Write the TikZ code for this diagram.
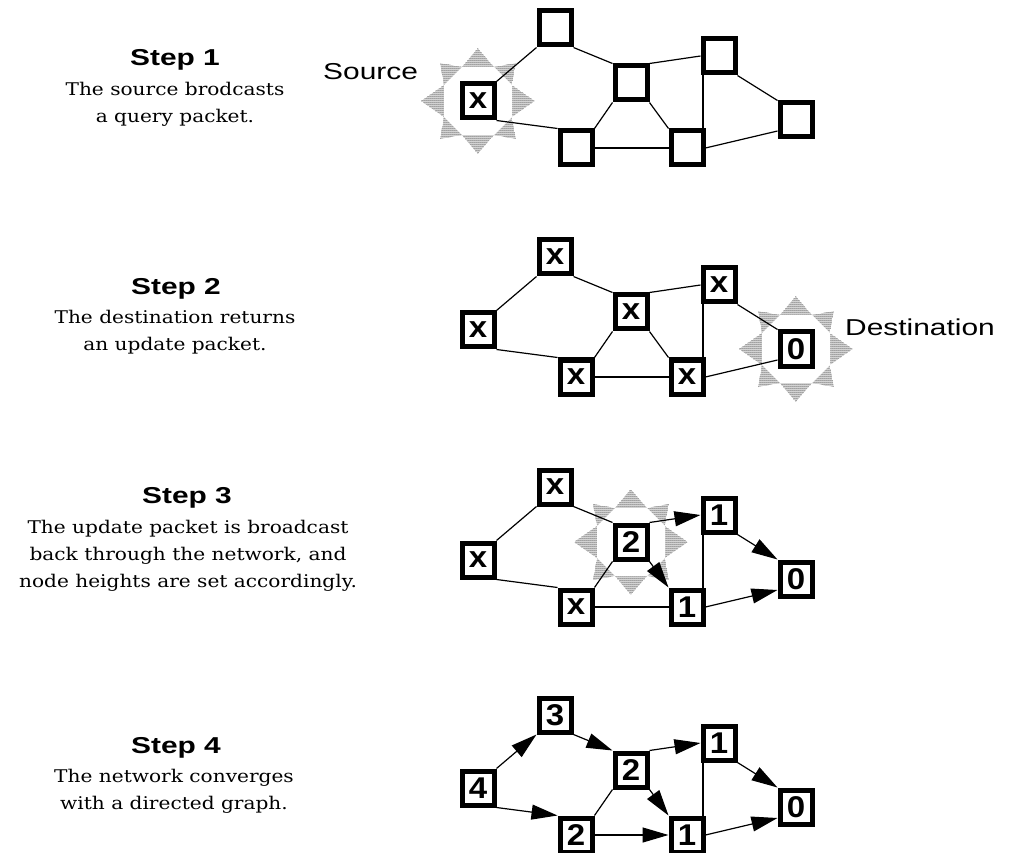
\documentclass[tikz,border=0pt]{standalone}
\usepackage{fontspec}
\setmainfont{DejaVu Serif}
\newfontfamily\bodyfont[FakeStretch=1.15]{DejaVu Serif}
\newfontfamily\lblfont[FakeStretch=1.3]{Liberation Sans}
\newfontfamily\boxfont[FakeStretch=1.1]{Liberation Sans}
\usetikzlibrary{arrows.meta,patterns,calc}
\pgfdeclarepatternformonly{stipple}{\pgfqpoint{-1pt}{-1pt}}{\pgfqpoint{1pt}{1pt}}{\pgfqpoint{2pt}{2pt}}{%
  \pgfpathcircle{\pgfqpoint{0pt}{0pt}}{0.75pt}\pgfusepath{fill}}
\pgfdeclarelayer{background}
\pgfsetlayers{background,main}
\tikzset{
  netbox/.style={draw, line width=5pt, fill=white, minimum width=32pt, minimum height=34pt,
    inner sep=0pt, font=\boxfont\bfseries\fontsize{30}{30}\selectfont},
  link/.style={line width=1.2pt},
  arr/.style={link, -{Triangle[length=26pt,width=15pt]}},
  steptitle/.style={anchor=base, inner sep=0pt, font=\lblfont\bfseries\fontsize{23}{27}\selectfont},
  desc/.style={anchor=north, align=center, inner sep=0pt, font=\bodyfont\fontsize{17.5}{27}\selectfont},
  lbl/.style={anchor=base west, inner sep=0pt, font=\lblfont\fontsize{23}{28}\selectfont},
}
\newcommand\net[9]{%
  \node[netbox] (s#1) at (478,101+#2) {#3};
  \node[netbox] (t#1) at (555,28+#2) {#4};
  \node[netbox] (m#1) at (631,83+#2) {#5};
  \node[netbox] (r#1) at (719,56+#2) {#6};
  \node[netbox] (f#1) at (796,120+#2) {#7};
  \node[netbox] (l#1) at (576,148+#2) {#8};
  \node[netbox] (b#1) at (687,148+#2) {#9};
  \coordinate (v#1) at ($(r#1.south west)+(2.5,0)$);
}
\newcommand\burst[1]{%
  \begin{pgfonlayer}{background}
  \begin{scope}[shift={(#1.center)}]
    \fill[pattern=stipple, pattern color=black!75]
      (57,0) -- (34,16) -- (38,38) -- (16,34) -- (0,53) -- (-16,34) -- (-38,38) -- (-34,16)
      -- (-57,0) -- (-34,-16) -- (-38,-38) -- (-16,-34) -- (0,-53) -- (16,-34) -- (38,-38)
      -- (34,-16) -- cycle;
    \fill[white] (34,16) -- (16,34) -- (-16,34) -- (-34,16) -- (-34,-16) -- (-16,-34)
      -- (16,-34) -- (34,-16) -- cycle;
  \end{scope}
  \end{pgfonlayer}
}
\begin{document}
\begin{tikzpicture}[x=1pt,y=-1pt]
\useasboundingbox (0,0) rectangle (1013,853);

% ---- texts ----
\node[steptitle] (h1) at (175,66) {Step 1};
\node[desc] (d1) at (175,81.7) {The source brodcasts\\a query packet.};
\node[steptitle] (h2) at (176,295) {Step 2};
\node[desc] (d2) at (175,309.7) {The destination returns\\an update packet.};
\node[steptitle] (h3) at (187,503) {Step 3};
\node[desc] (d3) at (188,519.7) {The update packet is broadcast\\back through the network, and\\node heights are set accordingly.};
\node[steptitle] (h4) at (176,753) {Step 4};
\node[desc] (d4) at (174,768.7) {The network converges\\with a directed graph.};

% ---- networks ----
\net{1}{0}{x}{}{}{}{}{}{}
\net{2}{229}{x}{x}{x}{x}{0}{x}{x}
\net{3}{459}{x}{x}{2}{1}{0}{x}{1}
\net{4}{687}{4}{3}{2}{1}{0}{2}{1}

\node[lbl] (src) at (323,80) {Source};
\node[lbl] (dst) at (845,335) {Destination};

\burst{s1}
\burst{f2}
\burst{m3}

% ---- edges, steps 1 and 2 ----
\foreach \n in {1,2}{
  \draw[link] (s\n.north east) -- (t\n.south west);
  \draw[link] (s\n.south east) -- (l\n.north west);
  \draw[link] (t\n.south east) -- (m\n.north west);
  \draw[link] (m\n.north east) -- (r\n.west);
  \draw[link] (m\n.south west) -- (l\n.north east);
  \draw[link] (m\n.south east) -- (b\n.north west);
  \draw[link] (l\n.east) -- (b\n.west);
  \draw[link] (v\n) -- (v\n |- b\n.north);
  \draw[link] (r\n.south east) -- (f\n.north west);
  \draw[link] (b\n.east) -- ($(f\n.west)+(0,11)$);
}
% ---- step 3 ----
\draw[link] (s3.north east) -- (t3.south west);
\draw[link] (s3.south east) -- (l3.north west);
\draw[link] (t3.south east) -- (m3.north west);
\draw[arr]  (m3.north east) -- (r3.west);
\draw[link] (m3.south west) -- (l3.north east);
\draw[arr]  (m3.south east) -- (b3.north west);
\draw[link] (l3.east) -- (b3.west);
\draw[link] (v3) -- (v3 |- b3.north);
\draw[arr]  (r3.south east) -- (f3.north west);
\draw[arr]  (b3.east) -- ($(f3.west)+(0,11)$);
% ---- step 4 ----
\draw[arr]  (s4.north east) -- (t4.south west);
\draw[arr]  (s4.south east) -- (l4.north west);
\draw[arr]  (t4.south east) -- (m4.north west);
\draw[arr]  (m4.north east) -- (r4.west);
\draw[link] (m4.south west) -- (l4.north east);
\draw[arr]  (m4.south east) -- (b4.north west);
\draw[arr]  (l4.east) -- (b4.west);
\draw[link] (v4) -- (v4 |- b4.north);
\draw[arr]  (r4.south east) -- (f4.north west);
\draw[arr]  (b4.east) -- ($(f4.west)+(0,11)$);
\end{tikzpicture}
\end{document}
